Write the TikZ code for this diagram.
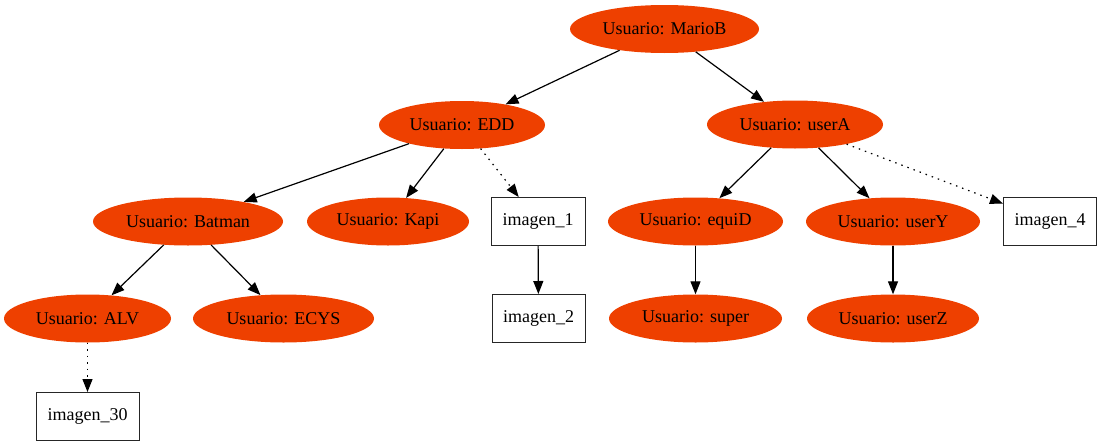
\documentclass[tikz,border=0pt]{standalone}
\usepackage{fontspec}
\setmainfont{Liberation Serif}
\usetikzlibrary{shapes.geometric,arrows.meta}
\definecolor{usr}{HTML}{EE4000}
\tikzset{
  usernode/.style={ellipse,fill=usr,draw=none,minimum height=48pt,inner sep=0pt,font=\fontsize{18}{20}\selectfont},
  imgnode/.style={rectangle,draw=black!85,line width=1pt,minimum height=48pt,inner sep=0pt,font=\fontsize{18}{20}\selectfont},
  edge/.style={draw=black,line width=1.2pt,-{Triangle[length=13pt,width=10pt]}},
  dotedge/.style={edge,dash pattern=on 1.5pt off 5pt}
}
\begin{document}
\begin{tikzpicture}[x=1pt,y=-1pt]
\useasboundingbox (0,0) rectangle (1102,447);
\node[usernode,minimum width=189pt] (mario) at (664.5,29) {Usuario: MarioB};
\node[usernode,minimum width=166pt] (edd) at (462,125) {Usuario: EDD};
\node[usernode,minimum width=176pt] (usera) at (795,124.5) {Usuario: userA};
\node[usernode,minimum width=190pt] (batman) at (188,221.5) {Usuario: Batman};
\node[usernode,minimum width=162pt] (kapi) at (388,221.5) {Usuario: Kapi};
\node[imgnode,minimum width=94pt] (img1) at (538,221.5) {imagen\_1};
\node[usernode,minimum width=175pt] (equid) at (695.5,221.5) {Usuario: equiD};
\node[usernode,minimum width=174pt] (usery) at (893,221.5) {Usuario: userY};
\node[imgnode,minimum width=93pt] (img4) at (1050,221.5) {imagen\_4};
\node[usernode,minimum width=167pt] (alv) at (87.5,318.5) {Usuario: ALV};
\node[usernode,minimum width=181pt] (ecys) at (283.5,318.5) {Usuario: ECYS};
\node[imgnode,minimum width=93pt] (img2) at (538.5,318.5) {imagen\_2};
\node[usernode,minimum width=173pt] (super) at (695.5,318.5) {Usuario: super};
\node[usernode,minimum width=172pt] (userz) at (893,318.5) {Usuario: userZ};
\node[imgnode,minimum width=103pt] (img30) at (87.5,416.5) {imagen\_30};
\draw[edge] (mario) -- (edd);
\draw[edge] (mario) -- (usera);
\draw[edge] (edd) -- (batman);
\draw[edge] (edd) -- (kapi);
\draw[dotedge] (edd) -- (img1);
\draw[edge] (usera) -- (equid);
\draw[edge] (usera) -- (usery);
\draw[dotedge] (usera) -- (img4);
\draw[edge] (batman) -- (alv);
\draw[edge] (batman) -- (ecys);
\draw[edge] (img1) -- (img2);
\draw[edge] (equid) -- (super);
\draw[edge] (usery) -- (userz);
\draw[dotedge] (alv) -- (img30);
\end{tikzpicture}
\end{document}
